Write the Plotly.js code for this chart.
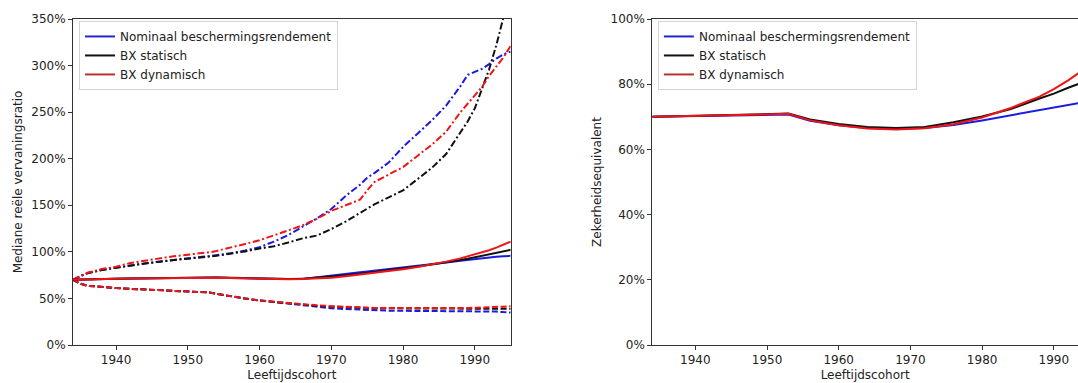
<!DOCTYPE html>
<html><head><meta charset="utf-8">
<script src="https://cdn.plot.ly/plotly-3.0.1.min.js"></script>
<style>html,body{margin:0;padding:0;overflow:hidden;background:#fff}#chart{width:1078px;height:383px}</style>
</head><body><div id="chart"></div><script>
// Left panel: cohorts
const years = [1934,1935,1936,1938,1940,1942,1944,1946,1948,1950,1952,1953,1954,1956,1958,1960,1962,1964,1966,1968,1970,1972,1974,1975,1976,1978,1980,1982,1984,1986,1988,1989,1990,1991,1992,1993,1994,1995];
// lower (dashed)
const nomLow = [70,66,63.6,62,61.2,60.3,59.5,58.7,58,57.5,57,56.4,55,52,49.8,47.8,46.2,44.6,42.6,40.7,39.5,38.6,37.8,37.4,37.1,36.9,36.7,36.6,36.6,36.5,36.5,36.6,36.8,36.8,36.5,35.9,35.3,34.9];
const statLow = [70,66,63.6,62,61.2,60.3,59.5,58.7,58,57.5,57,56.4,55,52,49.8,47.8,46.3,44.9,43.2,42.0,41.2,40.5,39.9,39.7,39.5,39.4,39.3,39.2,39.2,39.2,39.2,39.2,39.2,39.2,39.1,39.0,38.9,38.8];
const dynLow = [70,66,63.6,62,61.2,60.3,59.5,58.7,58,57.5,57,56.4,55,52,49.8,47.8,46.4,45.0,43.6,42.6,41.7,40.8,40.2,40.0,39.8,39.7,39.6,39.6,39.6,39.6,39.7,39.8,40.0,40.2,40.4,40.7,41.2,41.8];
// median (solid)
const nomMed = [70,70.3,70.5,70.7,71,71.3,71.6,71.9,72.1,72.3,72.5,72.6,72.4,72.0,71.6,71.3,71.0,70.8,71.0,72.6,74,76,78,79,79.8,81.5,83,84.8,86.5,88.5,90.5,91.5,92.5,93.5,94.2,94.8,95.3,95.7];
const statMed = [70,70.3,70.5,70.7,71,71.3,71.6,71.9,72.1,72.3,72.5,72.6,72.4,72.1,71.7,71.4,71.1,70.9,71.0,72.0,73.2,74.8,76.5,77.4,78.3,80.3,82.2,84.3,86.5,88.5,91.2,92.5,94,95.6,97.2,98.8,100.5,102.2];
const dynMed = [70,70.3,70.5,70.7,71,71.3,71.6,71.9,72.1,72.3,72.5,72.6,72.3,71.9,71.5,71.2,70.9,70.7,70.8,71.3,72.3,73.8,75.5,76.4,77.3,79.2,81.3,83.8,86.3,89.5,93,95,97,99.5,101.8,104.5,107.5,111];
// upper (dash-dot)
const nomHigh = [70,74,77,80.6,83,85.5,87.5,89.5,91.5,93,94.8,95.5,96.3,98.5,101.5,105,111,118,127,136,146,160,172,179.5,184.5,196,212.6,227,241,257,278,290,293,296.5,301.5,307.5,312,315];
const statHigh = [70,74,77,80.6,83,85.5,87.5,89.5,91.3,92.8,94.3,95,95.8,98,100.5,103.5,106,110,114.5,117.5,124.5,132.5,141.6,146.5,151,158.5,166,178,190,205,228,240,254,275,296,322,352,395];
const dynHigh = [70,74,77.5,81.5,84,88,90.5,93,95.3,97,98.5,99.5,101,104.5,108.5,112.5,117.5,123,128.5,135.5,144,150,156,166,175,183,191,203,215,229,250,259,268,277,289,299,309,321];

// Right panel: certainty equivalent
const yearsR = [1934,1940,1946,1950,1953,1956,1960,1964,1968,1972,1976,1980,1984,1988,1990,1992,1994,1995];
const nomCE = [70,70.2,70.5,70.7,70.7,68.8,67.4,66.6,66.3,66.6,67.5,68.9,70.5,72.1,72.9,73.7,74.4,74.8];
const statCE = [70,70.3,70.6,70.9,71.0,69.2,67.8,66.9,66.6,66.9,68.3,70.1,72.4,75.6,77.1,78.9,80.5,81.4];
const dynCE = [70,70.3,70.6,70.8,70.9,68.9,67.4,66.4,66.1,66.5,67.7,69.8,72.7,76.2,78.5,81.2,84.2,85.8];

const names = ['Nominaal beschermingsrendement','BX statisch','BX dynamisch'];
const tickYears = [1940,1950,1960,1970,1980,1990];

const BLUE = '#1a1ae0', BLACK = '#111111', RED = '#f01414';
const LEG = ['#2525d0','#111111','#b8332c'];
const W = 2;
const DASH = '6px,2.6px';
const DASHDOT = '7px,2.6px,2px,2.6px';

const traces = [];
function add(x, y, color, dash, xa, ya) {
  traces.push({x:x, y:y, type:'scatter', mode:'lines', xaxis:xa, yaxis:ya,
    line:{color:color, width:W, dash:dash}, showlegend:false, hoverinfo:'skip'});
}
add(years, nomHigh, BLUE, DASHDOT, 'x', 'y');
add(years, statHigh, BLACK, DASHDOT, 'x', 'y');
add(years, dynHigh, RED, DASHDOT, 'x', 'y');
add(years, nomLow, BLUE, DASH, 'x', 'y');
add(years, statLow, BLACK, DASH, 'x', 'y');
add(years, dynLow, RED, DASH, 'x', 'y');
add(years, nomMed, BLUE, 'solid', 'x', 'y');
add(years, statMed, BLACK, 'solid', 'x', 'y');
add(years, dynMed, RED, 'solid', 'x', 'y');
add(yearsR, nomCE, BLUE, 'solid', 'x2', 'y2');
add(yearsR, statCE, BLACK, 'solid', 'x2', 'y2');
add(yearsR, dynCE, RED, 'solid', 'x2', 'y2');

// legend entries
names.forEach((n, i) => {
  traces.push({x:[null], y:[null], type:'scatter', mode:'lines', name:n, xaxis:'x', yaxis:'y',
    line:{color:LEG[i], width:2}, legend:'legend', hoverinfo:'skip'});
});
names.forEach((n, i) => {
  traces.push({x:[null], y:[null], type:'scatter', mode:'lines', name:n, xaxis:'x2', yaxis:'y2',
    line:{color:LEG[i], width:2}, legend:'legend2', hoverinfo:'skip'});
});

const axisBase = {
  showline:true, linecolor:'#333', linewidth:1, ticks:'outside', ticklen:4, tickwidth:1,
  tickcolor:'#333', showgrid:false, zeroline:false, fixedrange:true,
  tickfont:{family:'DejaVu Sans', size:12, color:'#222'}
};
const titleFont = {family:'DejaVu Sans', size:12, color:'#222'};
const legendBase = {
  xanchor:'left', yanchor:'top', bgcolor:'rgba(255,255,255,0.85)', bordercolor:'#d4d4d4',
  borderwidth:1, font:{family:'DejaVu Sans', size:12, color:'#222'}, tracegroupgap:0
};

const layout = {
  width:1078, height:383,
  margin:{l:73, r:0, t:19, b:38, pad:0},
  paper_bgcolor:'#fff', plot_bgcolor:'#fff',
  font:{family:'DejaVu Sans', size:12, color:'#222'},
  showlegend:true,
  xaxis: Object.assign({}, axisBase, {domain:[0,0.4355], range:[1934,1995], tickvals:tickYears,
    mirror:true, anchor:'y', title:{text:'Leeftijdscohort', font:titleFont, standoff:4}}),
  yaxis: Object.assign({}, axisBase, {range:[0,350], dtick:50, tick0:0, ticksuffix:'%',
    mirror:true, anchor:'x', title:{text:'Mediane reële vervaningsratio', font:titleFont, standoff:6}}),
  xaxis2: Object.assign({}, axisBase, {domain:[0.5764,1], range:[1934,1993.37], tickvals:tickYears,
    mirror:true, anchor:'y2', title:{text:'Leeftijdscohort', font:titleFont, standoff:4}}),
  yaxis2: Object.assign({}, axisBase, {range:[0,100], dtick:20, tick0:0, ticksuffix:'%',
    mirror:false, anchor:'x2', title:{text:'Zekerheidsequivalent', font:titleFont, standoff:6}}),
  legend: Object.assign({}, legendBase, {x:0.006, y:0.994}),
  legend2: Object.assign({}, legendBase, {x:0.582, y:0.994})
};

Plotly.newPlot('chart', traces, layout, {staticPlot:true, displayModeBar:false});
</script></body></html>
